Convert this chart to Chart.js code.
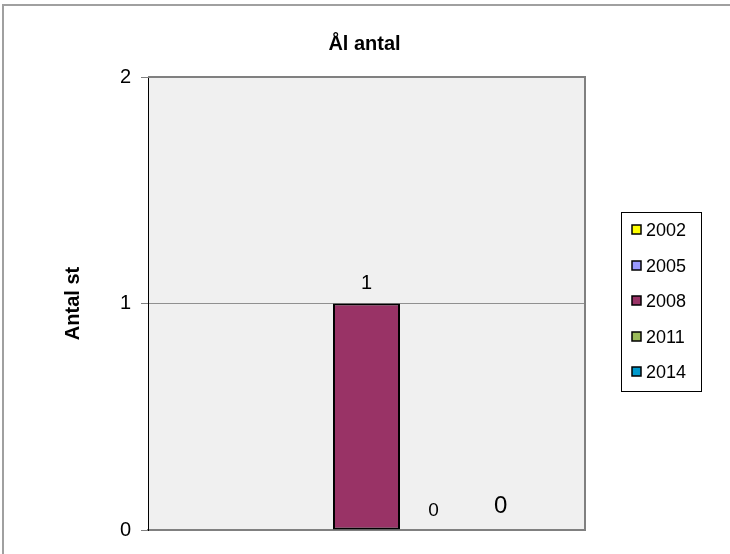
<!DOCTYPE html>
<html>
<head>
<meta charset="utf-8">
<title>Ål antal</title>
<script src="https://cdn.jsdelivr.net/npm/chart.js@4.4.1/dist/chart.umd.min.js"></script>
<style>
  body { margin: 0; background: #fff; }
  #wrap { position: relative; width: 730px; height: 554px; }
</style>
</head>
<body>
<div id="wrap"><canvas id="alChart" width="730" height="554"></canvas></div>
<script>
// data
const categories = [""];
const years = ["2002", "2005", "2008", "2011", "2014"];
const counts = [null, null, 1, 0, 0];
const yTicks = [0, 1, 2];
const chartTitle = "Ål antal";

const colors = ["#FFFF00", "#9999FF", "#993366", "#9BBB59", "#0099CC"];
const labelSizes = [20, 20, 20, 19, 24];
const labelGaps = [15, 15, 15, 14, 17];
const FONT = "Arial, 'Liberation Sans', sans-serif";

// plot background, frame, title and the outer chart border
const framePlugin = {
    id: "frame",
    beforeDraw(chart) {
        const { ctx, chartArea: a } = chart;
        ctx.save();
        ctx.fillStyle = "#F0F0F0";
        ctx.fillRect(a.left, a.top, a.right - a.left, a.bottom - a.top);
        ctx.restore();
    },
    afterDraw(chart) {
        const { ctx, chartArea: a } = chart;
        ctx.save();
        ctx.strokeStyle = "#808080";
        ctx.lineWidth = 2;
        ctx.beginPath();
        ctx.moveTo(a.left, a.top);
        ctx.lineTo(a.right, a.top);
        ctx.lineTo(a.right, a.bottom);
        ctx.stroke();
        // outer border
        ctx.strokeStyle = "#A0A0A0";
        ctx.beginPath();
        ctx.moveTo(3, chart.height);
        ctx.lineTo(3, 5);
        ctx.lineTo(chart.width, 5);
        ctx.stroke();
        // title, centred over the plot
        ctx.fillStyle = "#000";
        ctx.font = "bold 20px " + FONT;
        ctx.textAlign = "center";
        ctx.textBaseline = "middle";
        ctx.fillText(chartTitle, (a.left + a.right) / 2 - 2, 44);
        ctx.restore();
    }
};

// value labels above each bar
const valueLabels = {
    id: "valueLabels",
    afterDatasetsDraw(chart) {
        const ctx = chart.ctx;
        ctx.save();
        ctx.fillStyle = "#000";
        ctx.textAlign = "center";
        ctx.textBaseline = "alphabetic";
        chart.data.datasets.forEach((ds, i) => {
            const v = ds.data[0];
            if (v === null) return;
            const bar = chart.getDatasetMeta(i).data[0];
            ctx.font = labelSizes[i] + "px " + FONT;
            ctx.fillText(String(v), bar.x, bar.y - labelGaps[i]);
        });
        ctx.restore();
    }
};

// boxed legend on the right
const boxLegend = {
    id: "boxLegend",
    afterDraw(chart) {
        const ctx = chart.ctx;
        const left = 621, top = 212, w = 80, h = 179, step = 35.5;
        ctx.save();
        ctx.strokeStyle = "#000";
        ctx.lineWidth = 1;
        ctx.strokeRect(left + 0.5, top + 0.5, w, h);
        ctx.font = "18px " + FONT;
        ctx.textBaseline = "middle";
        chart.data.datasets.forEach((ds, i) => {
            const y = Math.round(top + 18 + i * step);
            ctx.fillStyle = ds.backgroundColor;
            ctx.fillRect(left + 11, y - 5, 9, 9);
            ctx.strokeStyle = "#000";
            ctx.lineWidth = 1.5;
            ctx.strokeRect(left + 11, y - 5, 9, 9);
            ctx.fillStyle = "#000";
            ctx.fillText(ds.label, left + 25, y + 1);
        });
        ctx.restore();
    }
};

new Chart(document.getElementById("alChart"), {
    type: "bar",
    data: {
        labels: categories,
        datasets: years.map((y, i) => ({
            label: y,
            data: [counts[i]],
            backgroundColor: colors[i],
            borderColor: "#000",
            borderWidth: 2,
            borderSkipped: false
        }))
    },
    options: {
        responsive: false,
        animation: false,
        barPercentage: 1,
        categoryPercentage: 0.767,
        layout: { padding: { left: 0, right: 145, bottom: 24, top: 77 } },
        plugins: {
            legend: { display: false },
            tooltip: { enabled: false },
            title: { display: false }
        },
        scales: {
            x: {
                grid: { display: false, drawTicks: false },
                ticks: { display: false },
                border: { color: "#808080", width: 2 }
            },
            y: {
                min: yTicks[0],
                max: yTicks[yTicks.length - 1],
                afterBuildTicks(scale) {
                    scale.ticks = yTicks.map(v => ({ value: v }));
                },
                afterFit(scale) { scale.width = 148; },
                ticks: {
                    color: "#000",
                    padding: 10,
                    font: { family: FONT, size: 20 }
                },
                grid: { color: "#909090", tickLength: 7, tickColor: "#808080" },
                border: { color: "#000", width: 1 },
                title: {
                    display: true,
                    text: "Antal st",
                    color: "#000",
                    font: { family: FONT, size: 20, weight: "bold" },
                    padding: { top: 61, bottom: 0 }
                }
            }
        }
    },
    plugins: [framePlugin, valueLabels, boxLegend]
});
</script>
</body>
</html>
